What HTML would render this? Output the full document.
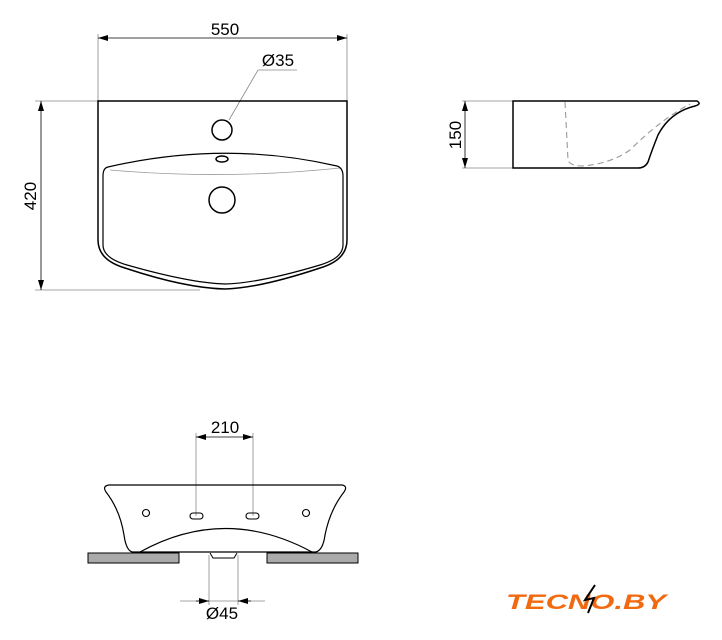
<!DOCTYPE html>
<html><head><style>body{margin:0;background:#fff}svg{display:block}</style></head><body>
<svg width="722" height="640" viewBox="0 0 722 640" xmlns="http://www.w3.org/2000/svg" font-family="Liberation Sans, sans-serif">
<defs><marker id="a" viewBox="0 0 10 6" refX="10" refY="3" markerWidth="10" markerHeight="6" orient="auto-start-reverse" markerUnits="userSpaceOnUse"><path d="M0,0L10,3L0,6z" fill="#000"/></marker></defs>
<g stroke="#888" stroke-width="0.8" fill="none">
<line x1="98" y1="34" x2="98" y2="101"/><line x1="347" y1="34" x2="347" y2="101"/>
<line x1="35" y1="101" x2="98" y2="101"/><line x1="35" y1="290" x2="200" y2="290"/>
<polyline points="229,120 258,70 297,70"/>
<line x1="462" y1="101" x2="513" y2="101"/><line x1="462" y1="168" x2="513" y2="168"/>
<line x1="196" y1="433" x2="196" y2="516"/><line x1="253" y1="433" x2="253" y2="516"/>
<line x1="209" y1="555" x2="209" y2="605"/><line x1="238" y1="555" x2="238" y2="605"/>
<line x1="180" y1="601" x2="265" y2="601"/>
<path d="M110,170 Q225,180 340,168" stroke="#999"/>
</g>
<g stroke="#000" stroke-width="0.8" fill="none">
<line x1="98" y1="38" x2="347" y2="38" marker-start="url(#a)" marker-end="url(#a)"/>
<line x1="41" y1="101" x2="41" y2="290" marker-start="url(#a)" marker-end="url(#a)"/>
<line x1="465" y1="101" x2="465" y2="168" marker-start="url(#a)" marker-end="url(#a)"/>
<line x1="196" y1="437" x2="253" y2="437" marker-start="url(#a)" marker-end="url(#a)"/>
<line x1="196" y1="601" x2="209" y2="601" marker-end="url(#a)"/>
<line x1="251" y1="601" x2="238" y2="601" marker-end="url(#a)"/>
</g>
<g stroke="#000" stroke-width="1.5" fill="none">
<path d="M98,101 H347 V240 Q347,260 320,268 Q260,288 225,289 Q185,288 125,268 Q98,260 98,240 Z"/>
<path d="M108,167 Q225,140 337,166 Q343,168 343,176 V245 Q343,258 320,265 Q260,283 225,284 Q190,283 127,265 Q103,258 103,245 V176 Q103,168 108,167 Z" stroke-width="1.2"/>
<circle cx="222" cy="130" r="10"/>
<circle cx="222" cy="200" r="13"/>
<ellipse cx="222" cy="159" rx="6" ry="3"/>
<path d="M513,101 H697 Q702,104 695,106 Q670,112 658,135 Q652,150 648,162 Q645,168 638,168 H513 Z"/>
<path d="M565,102 L568,160 Q570,166 582,166 Q610,164 630,150 Q660,120 690,104" stroke="#999" stroke-dasharray="6,4" stroke-width="1.1"/>
<path d="M109,485 H342 Q348,486 344,492 Q330,510 325,535 Q323,550 316,552 H132 Q126,550 124,535 Q120,510 106,492 Q102,486 109,485 Z" stroke-width="1.2"/>
<path d="M140,552 Q225,505 312,552" stroke-width="1.2"/>
<circle cx="146" cy="513" r="3.5" stroke-width="1.1"/>
<circle cx="306" cy="513" r="3.5" stroke-width="1.1"/>
<rect x="190" y="513" width="13" height="6" rx="3" stroke-width="1.1"/>
<rect x="246" y="513" width="13" height="6" rx="3" stroke-width="1.1"/>
<path d="M210,553 L213,558 H234 L237,553" stroke-width="1"/>
</g>
<rect x="88" y="553" width="91" height="10" fill="#aaa" stroke="#000" stroke-width="1"/>
<rect x="267" y="553" width="91" height="10" fill="#aaa" stroke="#000" stroke-width="1"/>
<g font-size="17" fill="#000" text-anchor="middle">
<text x="225" y="35">550</text>
<text x="278" y="66">Ø35</text>
<text x="36" y="196" transform="rotate(-90 36 196)">420</text>
<text x="461" y="135" transform="rotate(-90 461 135)">150</text>
<text x="225" y="433">210</text>
<text x="222" y="619">Ø45</text>
</g>
<text x="506" y="609" font-size="21" font-weight="900" font-style="italic" fill="#f26a10" textLength="160" lengthAdjust="spacingAndGlyphs">TECNO.BY</text>
<path d="M595,585 L585,600 L594,598 L588,613" stroke="#000" stroke-width="2" fill="none"/>
</svg>
</body></html>
